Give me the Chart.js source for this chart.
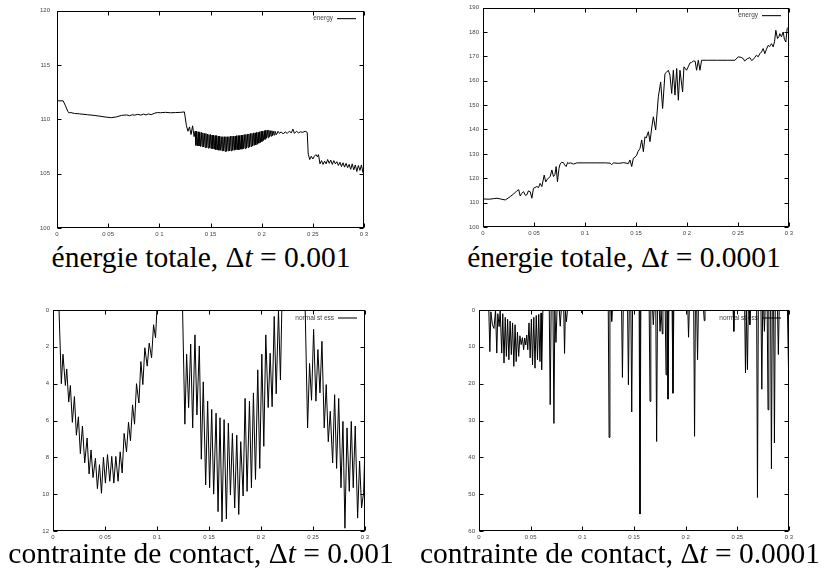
<!DOCTYPE html>
<html lang="fr">
<head>
<meta charset="utf-8">
<title>énergie totale et contrainte de contact</title>
<script src="https://cdn.jsdelivr.net/npm/chart.js@4.4.1/dist/chart.umd.min.js"></script>
<style>
    html, body { margin: 0; padding: 0; background: #fff; }
    body { width: 827px; height: 581px; position: relative; overflow: hidden; }
    canvas { position: absolute; }
    .caption {
        position: absolute;
        transform: translateX(-50%);
        font-family: "Liberation Serif", "DejaVu Serif", serif;
        font-size: 29.5px;
        line-height: 29.5px;
        white-space: nowrap;
        color: #000;
    }
</style>
</head>
<body>
<canvas id="energy1" width="380" height="240" style="left:0px;top:0px"></canvas>
<canvas id="energy2" width="380" height="240" style="left:420px;top:0px"></canvas>
<canvas id="stress1" width="380" height="243" style="left:0px;top:300px"></canvas>
<canvas id="stress2" width="380" height="243" style="left:420px;top:300px"></canvas>

<div class="caption" style="left:201px;top:243px">énergie totale, Δ<i>t</i> = 0.001</div>
<div class="caption" style="left:624px;top:243px">énergie totale, Δ<i>t</i> = 0.0001</div>
<div class="caption" style="left:201px;top:539px">contrainte de contact, Δ<i>t</i> = 0.001</div>
<div class="caption" style="left:620px;top:539px">contrainte de contact, Δ<i>t</i> = 0.0001</div>

<script>
// Axis ticks
const xTickValues = [0, 0.05, 0.1, 0.15, 0.2, 0.25, 0.3];
const xTickLabels = ['0', '0 05', '0 1', '0 15', '0 2', '0 25', '0 3'];
const energyTicks1 = [100, 105, 110, 115, 120];
const energyTicks2 = [100, 110, 120, 130, 140, 150, 160, 170, 180, 190];
const stressTicks1 = [0, 2, 4, 6, 8, 10, 12];
const stressTicks2 = [0, 10, 20, 30, 40, 50, 60];

// Energy, dt = 0.001
const energyTimes1 = [
    0.000, 0.006, 0.008, 0.0105, 0.0115, 0.0135, 0.017, 0.022, 0.030, 0.037,
    0.043, 0.048, 0.053, 0.058, 0.063, 0.068, 0.071, 0.0735, 0.076, 0.079,
    0.082, 0.0845, 0.087, 0.0895, 0.092, 0.095, 0.098, 0.101, 0.106, 0.111,
    0.116, 0.121, 0.1245, 0.1265, 0.128, 0.1295, 0.131, 0.1325, 0.134,
    // oscillating band
    0.13500, 0.13575, 0.13650, 0.13725, 0.13800, 0.13875, 0.13950, 0.14025, 0.14100, 0.14175,
    0.14250, 0.14325, 0.14400, 0.14475, 0.14550, 0.14625, 0.14700, 0.14775, 0.14850, 0.14925,
    0.15000, 0.15075, 0.15150, 0.15225, 0.15300, 0.15375, 0.15450, 0.15525, 0.15600, 0.15675,
    0.15750, 0.15825, 0.15900, 0.15975, 0.16050, 0.16125, 0.16200, 0.16275, 0.16350, 0.16425,
    0.16500, 0.16575, 0.16650, 0.16725, 0.16800, 0.16875, 0.16950, 0.17025, 0.17100, 0.17175,
    0.17250, 0.17325, 0.17400, 0.17475, 0.17550, 0.17625, 0.17700, 0.17775, 0.17850, 0.17925,
    0.18000, 0.18075, 0.18150, 0.18225, 0.18300, 0.18375, 0.18450, 0.18525, 0.18600, 0.18675,
    0.18750, 0.18825, 0.18900, 0.18975, 0.19050, 0.19125, 0.19200, 0.19275, 0.19350, 0.19425,
    0.19500, 0.19575, 0.19650, 0.19725, 0.19800, 0.19875, 0.19950, 0.20025, 0.20100, 0.20175,
    0.20250, 0.20325, 0.20400, 0.20475, 0.20550, 0.20625, 0.20700, 0.20775, 0.20850, 0.20925,
    0.21000, 0.21075, 0.21150, 0.21225, 0.21300,
    0.2145, 0.216, 0.2175, 0.219, 0.221, 0.223, 0.225, 0.227, 0.229, 0.2305,
    0.232, 0.234, 0.236, 0.238, 0.240, 0.2425, 0.2445, 0.2455, 0.247, 0.2485,
    0.250, 0.2515, 0.253, 0.2545, 0.2555, 0.257, 0.2585, 0.260, 0.2615, 0.263,
    0.2645, 0.266, 0.2675, 0.269, 0.2705, 0.272, 0.2735, 0.275, 0.2765, 0.278,
    0.2795, 0.281, 0.2825, 0.284, 0.2855, 0.287, 0.2885, 0.290, 0.2915, 0.293,
    0.2945, 0.296, 0.2975, 0.299, 0.300
];
const energyValues1 = [
    111.7, 111.7, 111.3, 110.75, 110.6, 110.62, 110.54, 110.5, 110.42, 110.35,
    110.27, 110.2, 110.15, 110.22, 110.36, 110.40, 110.33, 110.42, 110.38, 110.46,
    110.38, 110.48, 110.40, 110.50, 110.42, 110.55, 110.62, 110.60, 110.64, 110.60,
    110.62, 110.64, 110.68, 109.4, 108.9, 109.3, 108.6, 109.4, 108.4,
    // oscillating band
    108.9, 107.6, 108.9, 107.55, 108.85, 107.55, 108.8, 107.5, 108.8, 107.5,
    108.75, 107.45, 108.7, 107.4, 108.7, 107.4, 108.65, 107.35, 108.6, 107.35,
    108.6, 107.3, 108.55, 107.3, 108.55, 107.25, 108.5, 107.2, 108.5, 107.2,
    108.45, 107.15, 108.45, 107.15, 108.4, 107.1, 108.4, 107.1, 108.4, 107.05,
    108.4, 107.05, 108.4, 107.1, 108.4, 107.1, 108.45, 107.1, 108.45, 107.15,
    108.45, 107.15, 108.45, 107.2, 108.5, 107.2, 108.5, 107.2, 108.5, 107.25,
    108.55, 107.25, 108.55, 107.3, 108.6, 107.3, 108.6, 107.35, 108.65, 107.4,
    108.65, 107.45, 108.7, 107.5, 108.7, 107.55, 108.75, 107.6, 108.75, 107.65,
    108.8, 107.7, 108.8, 107.8, 108.85, 107.85, 108.9, 107.95, 108.9, 108.05,
    108.95, 108.15, 109.0, 108.25, 109.0, 108.3, 109.0, 108.4, 108.95, 108.45,
    108.95, 108.5, 108.9, 108.55, 108.9,
    108.6, 108.9, 108.7, 108.85, 108.65, 108.85, 108.7, 108.9, 108.75, 109.1,
    108.7, 108.9, 108.75, 108.85, 108.8, 108.9, 108.8, 106.8, 106.3, 106.6,
    106.35, 106.6, 106.75, 106.55, 106.75, 105.9, 106.2, 105.85, 106.15, 105.9,
    106.3, 105.95, 106.25, 105.85, 106.2, 105.9, 106.1, 105.75, 106.05, 105.65,
    106.0, 105.6, 105.95, 105.55, 105.85, 105.4, 105.9, 105.35, 105.8, 105.2,
    105.75, 105.3, 105.8, 105.1, 105.8
];

// Energy, dt = 0.0001
const energyTimes2 = [
    0.000, 0.006, 0.010, 0.0137, 0.017, 0.0218, 0.0245, 0.0267, 0.030, 0.0333,
    0.035, 0.0365, 0.038, 0.0398, 0.0415, 0.043, 0.0445, 0.0463, 0.0479, 0.0495,
    0.051, 0.0528, 0.0545, 0.056, 0.0577, 0.060, 0.0615, 0.0626, 0.064, 0.0659,
    0.0675, 0.0691, 0.0705, 0.0717, 0.073, 0.0745, 0.0756, 0.077, 0.0789, 0.080,
    0.0815, 0.083, 0.0838, 0.086, 0.0887, 0.092, 0.100, 0.110, 0.120, 0.1246,
    0.126, 0.128, 0.133, 0.138, 0.1425, 0.1441, 0.1458, 0.1474, 0.149, 0.1507,
    0.152, 0.1539, 0.1556, 0.1572, 0.1588, 0.160, 0.1621, 0.1637, 0.1655, 0.167,
    0.1693, 0.1705, 0.1719, 0.1742, 0.1761, 0.1784, 0.180, 0.1817, 0.1833, 0.185,
    0.1866, 0.1882, 0.1899, 0.1915, 0.1931, 0.1957, 0.197, 0.1996, 0.2015, 0.2029,
    0.2045, 0.2062, 0.208, 0.2094, 0.2111, 0.2127, 0.2143, 0.220, 0.230, 0.240,
    0.247, 0.2502, 0.253, 0.2551, 0.2565, 0.259, 0.2616, 0.2633, 0.2649, 0.2665,
    0.2681, 0.2698, 0.2714, 0.273, 0.2747, 0.2763, 0.278, 0.2796, 0.281, 0.2828,
    0.2845, 0.2858, 0.2871, 0.2887, 0.290, 0.291, 0.2926, 0.2943, 0.2955, 0.2969,
    0.2982, 0.300
];
const energyValues2 = [
    111.5, 111.4, 111.6, 111.8, 111.5, 111.1, 111.8, 112.5, 113.5, 114.9,
    115.3, 112.7, 113.8, 114.5, 113.0, 113.2, 114.8, 114.5, 111.8, 115.9,
    116.2, 116.6, 116.2, 117.9, 116.6, 121.3, 118.5, 119.3, 120.0, 120.7,
    123.4, 120.7, 121.5, 124.8, 118.6, 124.0, 125.8, 126.5, 126.4, 125.5,
    124.8, 126.5, 126.1, 126.3, 125.8, 126.3, 126.3, 126.3, 126.3, 126.2,
    125.6, 126.3, 126.1, 126.4, 126.0, 127.5, 124.8, 128.2, 128.6, 129.5,
    131.0, 132.2, 135.7, 130.9, 137.0, 136.5, 139.1, 135.0, 141.0, 145.2,
    139.8, 146.0, 153.4, 159.5, 148.6, 162.9, 163.5, 164.3, 162.3, 154.8,
    164.3, 154.1, 165.0, 152.0, 164.3, 155.4, 165.7, 164.3, 166.0, 167.3,
    167.5, 168.1, 168.0, 164.3, 168.4, 164.3, 168.4, 168.4, 168.4, 168.4,
    168.4, 169.8, 169.6, 169.1, 168.1, 169.0, 169.5, 168.3, 168.7, 169.6,
    170.5, 169.8, 171.1, 171.8, 173.2, 171.1, 173.0, 174.5, 174.0, 175.2,
    173.9, 176.0, 180.7, 177.3, 178.0, 179.3, 178.0, 180.0, 177.0, 175.9,
    181.4, 182.3
];

// Normal stress, dt = 0.001
const stressTimes1 = [
    0.000, 0.0058, 0.0080, 0.0096, 0.0119, 0.0132, 0.0151, 0.0167, 0.0186, 0.0206,
    0.0225, 0.0244, 0.0263, 0.0283, 0.0305, 0.0328, 0.0347, 0.0366, 0.0385, 0.0408,
    0.0427, 0.0447, 0.0466, 0.0485, 0.0504, 0.0524, 0.0546, 0.0565, 0.0585, 0.0604,
    0.0626, 0.0646, 0.0665, 0.0684, 0.0707, 0.0726, 0.0745, 0.0765, 0.0784, 0.0803,
    0.0826, 0.0845, 0.0864, 0.0883, 0.0906, 0.0925, 0.0948, 0.0967, 0.0986, 0.0999,
    0.1246, 0.1268, 0.1285, 0.1304, 0.1324, 0.1343, 0.1365, 0.1384, 0.1407, 0.1426,
    0.1445, 0.1468, 0.1487, 0.1506, 0.1526, 0.1545, 0.1568, 0.1587, 0.1606, 0.1625,
    0.1645, 0.1667, 0.1686, 0.1706, 0.1725, 0.1747, 0.1767, 0.1786, 0.1805, 0.1828,
    0.1847, 0.1866, 0.1889, 0.1908, 0.1927, 0.1947, 0.1969, 0.1988, 0.2008, 0.2027,
    0.2046, 0.2069, 0.2088, 0.2107, 0.2127, 0.2146, 0.2168, 0.2187, 0.2200,
    0.2425, 0.2448, 0.2467, 0.2486, 0.2506, 0.2528, 0.2547, 0.2567, 0.2586, 0.2608,
    0.2627, 0.2647, 0.2666, 0.2689, 0.2708, 0.2727, 0.2747, 0.2769, 0.2788, 0.2807,
    0.2827, 0.2849, 0.2868, 0.2887, 0.2906, 0.2929, 0.2948, 0.2967, 0.2987, 0.3000
];
const stressValues1 = [
    0, 0, 4.0, 2.4, 4.1, 3.2, 5.0, 4.1, 6.1, 4.7,
    6.8, 5.8, 7.8, 6.3, 8.3, 6.95, 8.9, 7.6, 9.1, 8.05,
    9.7, 8.4, 9.95, 8.0, 9.4, 7.85, 9.3, 7.95, 9.4, 7.95,
    9.3, 7.7, 8.85, 6.7, 7.7, 6.1, 7.1, 5.15, 6.2, 4.0,
    5.05, 2.8, 4.05, 2.05, 3.05, 1.8, 2.6, 0.8, 1.5, 0,
    0, 6.2, 2.4, 5.3, 1.85, 6.4, 1.35, 5.7, 1.95, 8.1,
    3.9, 9.5, 4.95, 9.65, 5.4, 10.0, 5.6, 10.95, 5.85, 11.5,
    5.95, 11.35, 6.15, 10.05, 6.7, 10.75, 6.8, 11.1, 7.15, 10.1,
    4.8, 9.85, 4.95, 9.65, 4.5, 9.2, 3.25, 8.6, 2.4, 7.4,
    1.35, 5.3, 2.35, 5.25, 0.35, 4.55, 0, 3.8, 0,
    0, 6.4, 2.9, 4.9, 1.05, 4.95, 2.15, 4.5, 1.7, 6.4,
    4.05, 7.15, 5.5, 8.3, 4.6, 8.6, 4.8, 9.65, 6.05, 11.85,
    6.4, 9.85, 6.05, 9.65, 6.3, 11.3, 8.2, 10.75, 9.9, 7.3
];

// Normal stress, dt = 0.0001
const stressTimes2 = [
    0.000, 0.0095, 0.0105, 0.0115, 0.013, 0.0145, 0.016, 0.0172, 0.0182, 0.0195,
    0.0205, 0.022, 0.023, 0.0242, 0.0254, 0.0265, 0.0277, 0.0289, 0.0301, 0.0313,
    0.0325, 0.0337, 0.0349, 0.036, 0.0372, 0.0384, 0.0396, 0.0408, 0.042, 0.0432,
    0.0442, 0.0452, 0.0462, 0.0472, 0.0484, 0.0495, 0.0507, 0.0518, 0.053, 0.0542,
    0.0554, 0.0566, 0.0578, 0.059, 0.060, 0.0606, 0.0618,
    0.0680, 0.0689, 0.0698, 0.0716, 0.0725, 0.0734, 0.0745, 0.0755, 0.0777, 0.0786,
    0.0796, 0.0820, 0.0828, 0.0836, 0.0846, 0.0856, 0.0990, 0.0995, 0.1000,
    0.1251, 0.1259, 0.1267, 0.1278, 0.1284, 0.1290, 0.1380, 0.1388, 0.1396,
    0.1438, 0.1446, 0.1454, 0.1470, 0.1478, 0.1486, 0.1550, 0.1558, 0.1566,
    0.1647, 0.1655, 0.1663, 0.1680, 0.1687, 0.1694, 0.1711, 0.1719, 0.1727,
    0.1745, 0.1752, 0.1762, 0.1768, 0.1774, 0.1780, 0.1802, 0.1810, 0.1818,
    0.1822, 0.1829, 0.1837, 0.1869, 0.1877, 0.1885, 0.2021, 0.2028, 0.2035,
    0.2078, 0.2086, 0.2094, 0.2107, 0.2115, 0.2123, 0.2173, 0.2180, 0.2187,
    0.2459, 0.2466, 0.2473, 0.2571, 0.2579, 0.2587, 0.2590, 0.2598, 0.2606,
    0.2614, 0.2621, 0.2628, 0.2687, 0.2695, 0.2703, 0.2729, 0.2737, 0.2745,
    0.2755, 0.2762, 0.2769, 0.2789, 0.2797, 0.2805, 0.2822, 0.2830, 0.2838,
    0.2851, 0.2859, 0.2867, 0.2889, 0.2897, 0.2905, 0.2985, 0.3000
];
const stressValues2 = [
    0, 0, 11.3, 0.5, 4.0, 5.0, 0, 11.7, 1.0, 4.5,
    0, 11.7, 1.0, 14.4, 2.0, 12.6, 2.5, 13.5, 3.0, 12.1,
    3.5, 15.3, 4.0, 14.0, 6.0, 12.6, 7.0, 9.4, 7.5, 10.8,
    7.6, 9.5, 6.8, 10.8, 3.5, 13.0, 2.5, 14.9, 2.0, 15.8,
    1.5, 13.5, 1.2, 14.0, 0.8, 16.2, 0,
    0, 25.7, 0, 0, 30.8, 0, 8.8, 0, 0, 4.4,
    0, 0, 11.8, 0, 3.2, 0, 0, 0.8, 0,
    0, 34.6, 0, 0, 3.1, 0, 0, 18.3, 0,
    0, 20.3, 0, 0, 27.7, 0, 0, 55.4, 0,
    0, 24.8, 0, 0, 4.0, 0, 0, 35.7, 0,
    0, 5.8, 0, 0, 6.5, 0, 0, 17.6, 0,
    0, 24.2, 0, 0, 22.6, 0, 0, 7.4, 0,
    0, 34.3, 0, 0, 13.5, 0, 0, 2.9, 0,
    0, 5.8, 0, 0, 17.1, 0, 0, 16.2, 0,
    0, 4.0, 0, 0, 50.9, 0, 0, 21.5, 0,
    0, 5.8, 0, 0, 27.1, 0, 0, 43.1, 0,
    0, 36.1, 0, 0, 12.1, 0, 0, 23.5
];

const tickFont = { family: 'Liberation Sans', size: 6 };
const tickColor = '#444';

// Gnuplot-like frame: border, inward ticks on all sides, key in the top right corner
const framePlugin = {
    id: 'frame',
    beforeDatasetsDraw(chart, args, opts) {
        const { ctx, chartArea: a } = chart;
        const y = a.top + 8;
        ctx.save();
        ctx.font = '6.5px "Liberation Sans"';
        ctx.fillStyle = '#444';
        ctx.textAlign = 'right';
        ctx.textBaseline = 'middle';
        ctx.fillText(opts.label, a.right - 31, y);
        ctx.strokeStyle = '#222';
        ctx.lineWidth = 1.2;
        ctx.beginPath();
        ctx.moveTo(a.right - 27, y);
        ctx.lineTo(a.right - 8, y);
        ctx.stroke();
        ctx.restore();
    },
    afterDraw(chart) {
        const { ctx, chartArea: a, scales } = chart;
        const l = Math.round(a.left) + 0.5, r = Math.round(a.right) - 0.5;
        const t = Math.round(a.top) + 0.5, b = Math.round(a.bottom) - 0.5;
        ctx.save();
        ctx.strokeStyle = '#000';
        ctx.lineWidth = 1;
        ctx.strokeRect(l, t, r - l, b - t);
        ctx.beginPath();
        scales.x.ticks.forEach(tick => {
            const px = Math.round(scales.x.getPixelForValue(tick.value)) + 0.5;
            ctx.moveTo(px, b); ctx.lineTo(px, b - 4);
            ctx.moveTo(px, t); ctx.lineTo(px, t + 4);
        });
        scales.y.ticks.forEach(tick => {
            const py = Math.round(scales.y.getPixelForValue(tick.value)) + 0.5;
            ctx.moveTo(l, py); ctx.lineTo(l + 4, py);
            ctx.moveTo(r, py); ctx.lineTo(r - 4, py);
        });
        ctx.stroke();
        ctx.restore();
    }
};

function makeChart(id, times, values, o) {
    const points = times.map((t, i) => ({ x: t, y: values[i] }));
    return new Chart(document.getElementById(id), {
        type: 'line',
        data: {
            datasets: [{
                label: o.label,
                data: points,
                borderColor: '#000',
                borderWidth: 1,
                pointRadius: 0,
                tension: 0
            }]
        },
        options: {
            responsive: false,
            animation: false,
            events: [],
            layout: { padding: { top: o.padTop, right: o.padRight, left: 0, bottom: 0 } },
            plugins: {
                legend: { display: false },
                tooltip: { enabled: false },
                frame: { label: o.label }
            },
            scales: {
                x: {
                    type: 'linear',
                    min: 0,
                    max: 0.3,
                    afterBuildTicks: s => { s.ticks = xTickValues.map(v => ({ value: v })); },
                    afterFit: s => { s.height = o.xHeight; },
                    grid: { display: false, drawTicks: false },
                    border: { display: false },
                    ticks: {
                        padding: o.xPad,
                        autoSkip: false,
                        maxRotation: 0,
                        font: tickFont,
                        color: tickColor,
                        callback: (v, i) => xTickLabels[i]
                    }
                },
                y: {
                    type: 'linear',
                    min: o.yTicks[0],
                    max: o.yTicks[o.yTicks.length - 1],
                    reverse: o.reverse,
                    afterBuildTicks: s => { s.ticks = o.yTicks.map(v => ({ value: v })); },
                    afterFit: s => { s.width = o.yWidth; },
                    grid: { display: false, drawTicks: false },
                    border: { display: false },
                    ticks: {
                        padding: o.yPad,
                        font: tickFont,
                        color: tickColor,
                        callback: v => String(v)
                    }
                }
            }
        },
        plugins: [framePlugin]
    });
}

makeChart('energy1', energyTimes1, energyValues1, {
    label: 'energy', yTicks: energyTicks1, reverse: false,
    yWidth: 57, padRight: 16, padTop: 7, xHeight: 12, yPad: 7, xPad: 3
});
makeChart('energy2', energyTimes2, energyValues2, {
    label: 'energy', yTicks: energyTicks2, reverse: false,
    yWidth: 63, padRight: 11, padTop: 7, xHeight: 13, yPad: 4, xPad: 3
});
makeChart('stress1', stressTimes1, stressValues1, {
    label: 'normal st ess', yTicks: stressTicks1, reverse: true,
    yWidth: 53, padRight: 15, padTop: 10, xHeight: 12, yPad: 4, xPad: 3
});
makeChart('stress2', stressTimes2, stressValues2, {
    label: 'normal st ess', yTicks: stressTicks2, reverse: true,
    yWidth: 59, padRight: 11, padTop: 10, xHeight: 12, yPad: 4, xPad: 3
});
</script>
</body>
</html>
